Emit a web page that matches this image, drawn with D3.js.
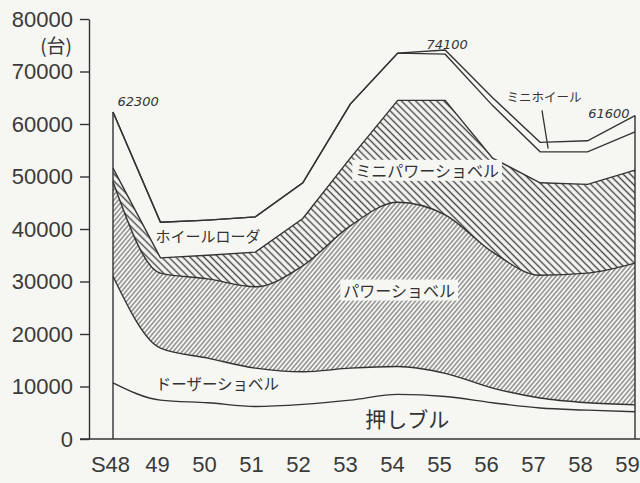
<!DOCTYPE html>
<html>
<head>
<meta charset="utf-8">
<script src="https://cdn.jsdelivr.net/npm/d3@7"></script>
<style>
  html, body { margin: 0; padding: 0; background: #f6f6f3; }
  svg { display: block; }
  .axis text { font-family: "Liberation Sans", sans-serif; font-size: 22px; fill: #3a3a3a; }
  .axis line, .axis path { stroke: #333; stroke-width: 1.4; }
  .jp { font-family: "Noto Sans CJK JP", sans-serif; fill: #333; }
  .note { font-family: "DejaVu Sans", sans-serif; font-style: italic; font-size: 13px; fill: #333; }
</style>
</head>
<body>
<svg width="640" height="483"></svg>
<script>
// years (showa era)
const years = ['S48', '49', '50', '51', '52', '53', '54', '55', '56', '57', '58', '59']

// units by type, bottom of the stack first
const pushBull = [10700, 7400, 6900, 6200, 6600, 7400, 8500, 8100, 6900, 5900, 5500, 5200]
const dozerShovel = [20300, 9900, 8500, 7300, 6200, 6100, 5300, 4400, 2800, 1900, 1400, 1300]
const powerShovel = [18000, 14300, 15100, 15500, 20200, 27100, 31300, 30200, 25900, 23400, 24700, 27000]
const miniPowerShovel = [2600, 2900, 4500, 6600, 9000, 12900, 19400, 21800, 17900, 17600, 16900, 17700]
const wheelLoader = [10700, 6800, 6700, 6700, 6800, 10300, 9000, 8800, 10000, 5900, 6200, 7300]
const miniWheel = [0, 0, 0, 0, 0, 0, 0, 800, 1500, 1800, 2100, 3100]

const yTicks = [0, 10000, 20000, 30000, 40000, 50000, 60000, 70000, 80000]

const keys = ['pushBull', 'dozerShovel', 'powerShovel', 'miniPowerShovel', 'wheelLoader', 'miniWheel']
const seriesValues = { pushBull, dozerShovel, powerShovel, miniPowerShovel, wheelLoader, miniWheel }

const rows = years.map((yr, i) => {
  const r = { year: yr }
  keys.forEach(k => r[k] = seriesValues[k][i])
  return r
})

const $svg = d3.select('svg')
const BG = '#f6f6f3'

const x = d3.scalePoint().domain(years).range([113, 635])
const y = d3.scaleLinear().domain([0, 80000]).range([439, 19])
const xi = i => x.range()[0] + i * x.step()

// hatch patterns
const defs = $svg.append('defs')
function hatch(id, gap, angle, width, color) {
  const p = defs.append('pattern')
    .attr('id', id)
    .attr('patternUnits', 'userSpaceOnUse')
    .attr('width', gap).attr('height', gap)
    .attr('patternTransform', `rotate(${angle})`)
  p.append('rect').attr('width', gap).attr('height', gap).attr('fill', BG)
  p.append('line')
    .attr('x1', gap / 2).attr('x2', gap / 2)
    .attr('y1', 0).attr('y2', gap)
    .attr('stroke', color).attr('stroke-width', width)
}
hatch('hatchPower', 3.4, 40, 1.0, '#5a5a5a')
hatch('hatchMini', 5, -45, 1.4, '#444')

const fills = {
  pushBull: BG,
  dozerShovel: BG,
  powerShovel: 'url(#hatchPower)',
  miniPowerShovel: 'url(#hatchMini)',
  wheelLoader: BG,
  miniWheel: BG
}
// lower boundaries are smooth, upper ones are ruled
const curves = {
  pushBull: d3.curveMonotoneX,
  dozerShovel: d3.curveMonotoneX,
  powerShovel: d3.curveMonotoneX,
  miniPowerShovel: d3.curveLinear,
  wheelLoader: d3.curveLinear,
  miniWheel: d3.curveLinear
}

const stacked = d3.stack().keys(keys)(rows)

const lineGen = d3.line().x(p => p[0]).y(p => p[1])

function layerPath(s, i) {
  const top = s.map(d => [x(d.data.year), y(d[1])])
  const bottom = s.map(d => [x(d.data.year), y(d[0])]).reverse()
  const lowCurve = i === 0 ? d3.curveLinear : curves[keys[i - 1]]
  const t = lineGen.curve(curves[s.key])(top)
  const b = lineGen.curve(lowCurve)(bottom)
  return t + 'L' + b.slice(1) + 'Z'
}

const $gVis = $svg.append('g')

$gVis.selectAll('path.layer')
  .data(stacked)
  .enter()
  .append('path')
  .attr('class', 'layer')
  .attr('d', layerPath)
  .attr('fill', d => fills[d.key])

$gVis.selectAll('path.edge')
  .data(stacked)
  .enter()
  .append('path')
  .attr('class', 'edge')
  .attr('d', d => lineGen.curve(curves[d.key])(d.map(p => [x(p.data.year), y(p[1])])))
  .attr('fill', 'none')
  .attr('stroke', '#333')
  .attr('stroke-width', 1.4)

// side edges of the stack
const totalOf = i => keys.reduce((s, k) => s + seriesValues[k][i], 0)
;[0, years.length - 1].forEach(i => {
  $gVis.append('line')
    .attr('x1', x(years[i])).attr('x2', x(years[i]))
    .attr('y1', y(0)).attr('y2', y(totalOf(i)))
    .attr('stroke', '#333').attr('stroke-width', 1.4)
})

// axes
$svg.append('g')
  .attr('class', 'axis y-axis')
  .attr('transform', `translate(89,0)`)
  .call(d3.axisLeft(y).tickValues(yTicks).tickSize(9).tickSizeOuter(0).tickPadding(7).tickFormat(d => d))

$svg.append('line')
  .attr('x1', 80).attr('x2', 640)
  .attr('y1', y(0)).attr('y2', y(0))
  .attr('stroke', '#333').attr('stroke-width', 1.4)

const xAxis = $svg.append('g')
  .attr('class', 'axis x-axis')
  .attr('transform', `translate(0, ${y(0)})`)
  .call(d3.axisBottom(x).tickSize(0).tickPadding(17))
xAxis.select('.domain').remove()
xAxis.selectAll('text').attr('dx', (d, i) => -3 - i * 0.45)

$svg.append('text')
  .attr('class', 'jp')
  .attr('x', 72).attr('y', 53)
  .attr('text-anchor', 'end')
  .style('font-size', '19px')
  .text('(台)')

// series labels
const labels = [
  { text: 'ホイールローダ', at: 2.0, value: 38500, size: 15 },
  { text: 'ミニパワーショベル', at: 6.62, value: 51000, size: 16, box: true },
  { text: 'パワーショベル', at: 6.03, value: 28200, size: 16, box: true },
  { text: 'ドーザーショベル', at: 2.2, value: 10400, size: 15.5 },
  { text: '押しブル', at: 6.2, value: 3600, size: 21 },
  { text: 'ミニホイール', at: 9.08, value: 65100, size: 12.5 }
]

const $labels = $svg.append('g')
labels.forEach(l => {
  const t = $labels.append('text')
    .attr('class', 'jp')
    .attr('x', xi(l.at))
    .attr('y', y(l.value))
    .attr('dy', '0.35em')
    .attr('text-anchor', 'middle')
    .style('font-size', l.size + 'px')
    .text(l.text)
  if (l.box) {
    const b = t.node().getBBox()
    $labels.insert('rect', () => t.node())
      .attr('x', b.x - 3).attr('y', b.y + 2)
      .attr('width', b.width + 6).attr('height', b.height - 3)
      .attr('fill', BG)
  }
})

// pointer for mini wheel
$svg.append('line')
  .attr('x1', xi(9.04)).attr('y1', y(62600))
  .attr('x2', xi(9.17)).attr('y2', y(55300))
  .attr('stroke', '#333').attr('stroke-width', 1.3)

// handwritten totals
const notes = [
  { text: '62300', at: 0.53, value: 64300 },
  { text: '74100', at: 7.04, value: 75200 },
  { text: '61600', at: 10.45, value: 62000 }
]
$svg.append('g').selectAll('text')
  .data(notes)
  .enter()
  .append('text')
  .attr('class', 'note')
  .attr('x', d => xi(d.at))
  .attr('y', d => y(d.value))
  .attr('dy', '0.35em')
  .attr('text-anchor', 'middle')
  .text(d => d.text)
</script>
</body>
</html>
